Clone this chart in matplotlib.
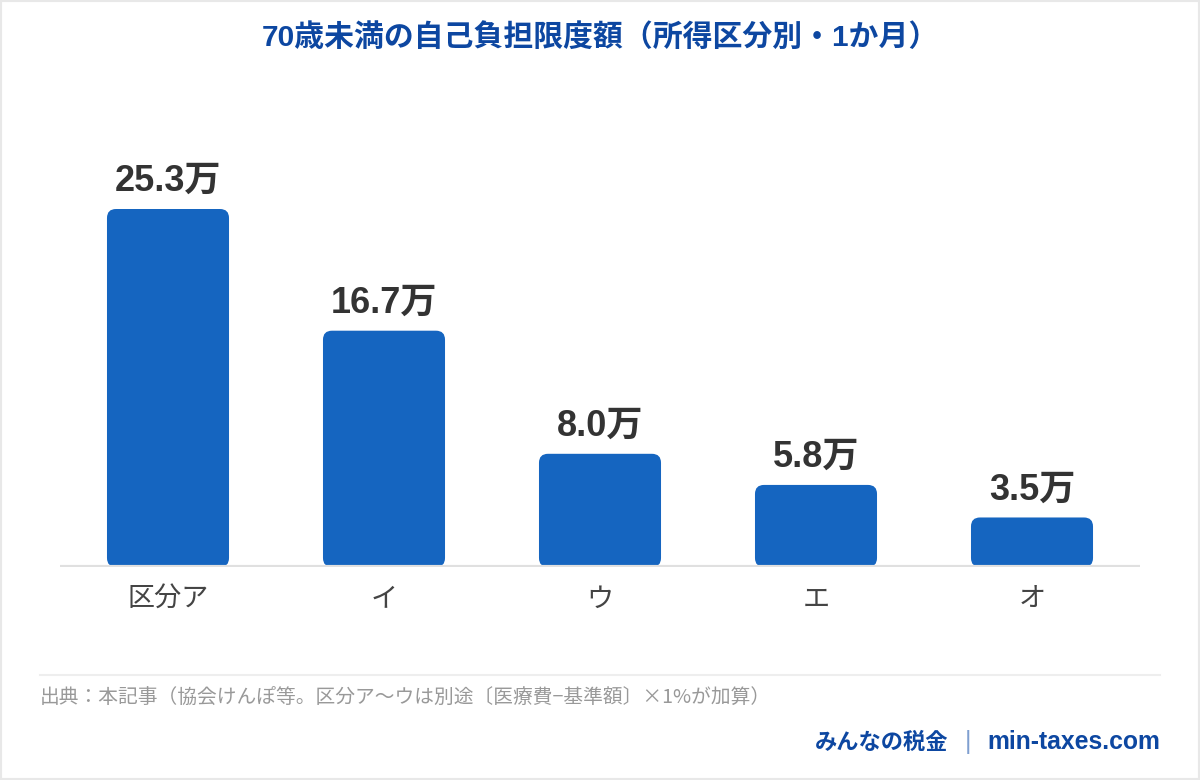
import matplotlib
matplotlib.use("Agg")
import matplotlib.pyplot as plt
from matplotlib.patches import FancyBboxPatch, Rectangle
from matplotlib.lines import Line2D

plt.rcParams['font.family'] = ['Liberation Sans', 'Noto Sans CJK JP', 'DejaVu Sans']

categories = ['区分ア', 'イ', 'ウ', 'エ', 'オ']
values = [25.3, 16.7, 8.0, 5.8, 3.5]
value_labels = ['25.3万', '16.7万', '8.0万', '5.8万', '3.5万']
title = '70歳未満の自己負担限度額（所得区分別・1か月）'
source = '出典：本記事（協会けんぽ等。区分ア〜ウは別途〔医療費−基準額〕×1%が加算）'

W, H = 1200, 780
fig = plt.figure(figsize=(W / 100, H / 100), dpi=100)
fig.patch.set_facecolor('white')

ax_left, ax_right = 60, 1140
ax_bottom, ax_top = 567, 100
ax = fig.add_axes([ax_left / W, 1 - ax_bottom / H, (ax_right - ax_left) / W, (ax_bottom - ax_top) / H])
ymax = (ax_bottom - ax_top) / 14.15
ax.set_xlim(-0.5, len(categories) - 0.5)
ax.set_ylim(0, ymax)
ax.axis('off')

bar_color = '#1565c0'
width = 0.565
bars = ax.bar(range(len(categories)), values, width=width, color=bar_color)

px_per_x = (ax_right - ax_left) / len(categories)
px_per_y = (ax_bottom - ax_top) / ymax
radius_px = 9
rx = radius_px / px_per_x
aspect = px_per_x / px_per_y
for b in bars:
    x, y = b.get_x(), b.get_y()
    w, h = b.get_width(), b.get_height()
    b.set_visible(False)
    p = FancyBboxPatch((x, y), w, h,
                       boxstyle=f"round,pad=0,rounding_size={rx}",
                       mutation_aspect=aspect,
                       facecolor=bar_color, edgecolor='none', zorder=3)
    ax.add_patch(p)

ax.axhline(0, color='#e0e0e0', lw=3, zorder=4)

for i, (v, lab) in enumerate(zip(values, value_labels)):
    ax.annotate(lab, (i, v), xytext=(0, 10), textcoords='offset pixels',
                ha='center', va='bottom', fontsize=26, fontweight='bold', color='#333333')
    ax.annotate(categories[i], (i, 0), xytext=(0, -19), textcoords='offset pixels',
                ha='center', va='top', fontsize=19.5, color='#444444',
                family=['Noto Sans CJK JP', 'DejaVu Sans'])

fig.text(0.5, 1 - 37 / H, title, ha='center', va='center', fontsize=21.5,
         fontweight='bold', color='#0d47a1')

fig.add_artist(Line2D([40 / W, 1160 / W], [1 - 675 / H, 1 - 675 / H], color='#eeeeee', lw=1.5))

fig.text(40 / W, 1 - 698 / H, source, ha='left', va='center', fontsize=14.2,
         color='#999999', family=['Noto Sans CJK JP', 'DejaVu Sans'])

fig.text(1160 / W, 1 - 742 / H, 'min-taxes.com', ha='right', va='center', fontsize=17.8,
         fontweight='bold', color='#0d47a1')
fig.text(968 / W, 1 - 742 / H, '|', ha='center', va='center', fontsize=18,
         color='#7f9fd0')
fig.text(948 / W, 1 - 742 / H, 'みんなの税金', ha='right', va='center', fontsize=16,
         fontweight='bold', color='#0d47a1', family=['Noto Sans CJK JP', 'DejaVu Sans'])

fig.add_artist(Rectangle((0, 0), 1, 1, transform=fig.transFigure, fill=False,
                         edgecolor='#e8e8e8', lw=3))

fig.savefig('out.png', dpi=100, facecolor='white')
